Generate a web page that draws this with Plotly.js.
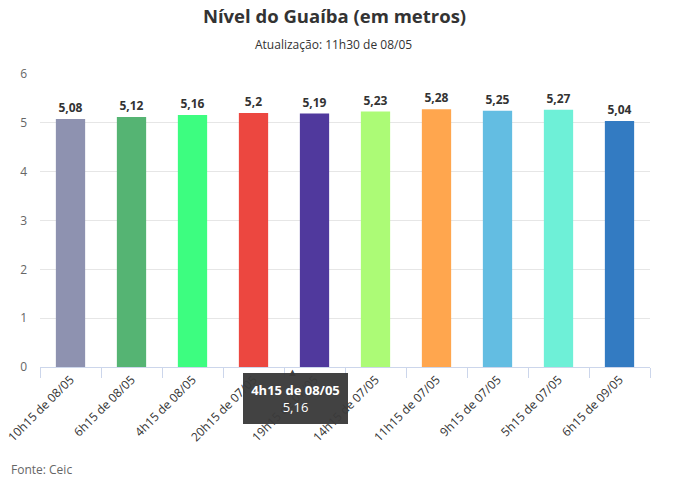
<!DOCTYPE html>
<html><head><meta charset="utf-8">
<script src="https://cdn.plot.ly/plotly-3.0.1.min.js"></script>
<style>html,body{margin:0;padding:0;background:#fff}#c{width:691px;height:481px}</style>
</head><body><div id="c"></div>
<script>
var categories = ["10h15 de 08/05","6h15 de 08/05","4h15 de 08/05","20h15 de 07/05","19h15 de 07/05","14h15 de 07/05","11h15 de 07/05","9h15 de 07/05","5h15 de 07/05","6h15 de 09/05"];
var values = [5.08,5.12,5.16,5.2,5.19,5.23,5.28,5.25,5.27,5.04];
var colors = ["#8e92b0","#55b473","#3dfd80","#ec4740","#50399d","#acfb76","#ffa64e","#63bde2","#6ef0d7","#337bc2"];
var yTicks = [0,1,2,3,4,5,6];
var tooltipTitle = "4h15 de 08/05";
var tooltipValue = "5,16";

var FONT = '"Open Sans", "Noto Sans", sans-serif';
var labels = values.map(function(v){return String(v).replace('.', ',');});
var TIP = 'rgba(58,58,58,0.96)';

var trace = {
  type: 'bar', x: categories, y: values,
  marker: {color: colors, line: {width: 0}},
  width: 0.48,
  text: labels, textposition: 'outside', cliponaxis: false,
  textfont: {family: FONT, size: 12, color: '#333', weight: 700},
  hoverinfo: 'none'
};

var layout = {
  width: 691, height: 481,
  margin: {l: 40, r: 41, t: 74, b: 114},
  paper_bgcolor: '#fff', plot_bgcolor: '#fff',
  font: {family: FONT, color: '#666'},
  showlegend: false, hovermode: false,
  title: {text: '<b>Nível do Guaíba (em metros)</b>', font: {family: FONT, size: 18.5, color: '#333'}, x: 334.5/691, xanchor: 'center', y: 0.965, yanchor: 'middle', xref: 'container'},
  xaxis: {
    type: 'category', tickangle: -45, automargin: false,
    tickfont: {family: FONT, size: 12, color: '#333'},
    showline: true, linecolor: '#ccd6eb', linewidth: 1,
    ticks: 'outside', ticklen: 10, tickcolor: '#ccd6eb', tickson: 'boundaries',
    showgrid: false, zeroline: false
  },
  yaxis: {
    range: [0, 6], tickvals: yTicks, automargin: false,
    tickfont: {family: FONT, size: 12, color: '#666'},
    gridcolor: '#e6e6e6', gridwidth: 1, zeroline: false, showline: false,
    ticklabelstandoff: 12
  },
  annotations: [
    {text: 'Atualização: 11h30 de 08/05', xref: 'paper', yref: 'paper', x: (333.5-40)/610, y: 1, yshift: 30, xanchor: 'center', yanchor: 'middle', showarrow: false, font: {family: FONT, size: 12, color: '#333'}},
    {text: 'Fonte: Ceic', xref: 'paper', yref: 'paper', x: 0, xshift: -31, y: 0, yshift: -102, xanchor: 'left', yanchor: 'middle', showarrow: false, font: {family: FONT, size: 12, color: '#666'}},
    {text: '<b>' + tooltipTitle + '</b><br>' + tooltipValue, xref: 'x', yref: 'y', x: 3.69, y: 0, yshift: -6, xanchor: 'center', yanchor: 'top', showarrow: false, bgcolor: TIP, borderpad: 8, borderwidth: 0, font: {family: FONT, size: 13, color: '#fff'}, align: 'center', width: 89},
    {text: '▲', xref: 'x', yref: 'y', x: 3.64, y: 0, yshift: -4, xanchor: 'center', yanchor: 'middle', showarrow: false, font: {family: FONT, size: 11, color: TIP}}
  ]
};

Plotly.newPlot('c', [trace], layout, {displayModeBar: false, staticPlot: true});
</script></body></html>
